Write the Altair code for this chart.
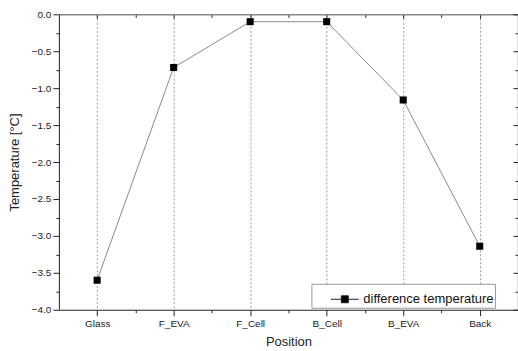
import altair as alt
import pandas as pd

categories = ["Glass", "F_EVA", "F_Cell", "B_Cell", "B_EVA", "Back"]
temps = [-3.60, -0.72, -0.10, -0.10, -1.16, -3.14]
series_name = "difference temperature"
y_ticks = [-4.0, -3.75, -3.5, -3.25, -3.0, -2.75, -2.5, -2.25, -2.0, -1.75, -1.5,
           -1.25, -1.0, -0.75, -0.5, -0.25, 0.0]
x_ticks = [0, 0.5, 1, 1.5, 2, 2.5, 3, 3.5, 4, 4.5, 5]

df = pd.DataFrame({
    "idx": list(range(len(categories))),
    "pos": categories,
    "temp": temps,
    "series": [series_name] * len(categories),
})

W, H = 460, 296
FONT = "Liberation Sans"
names_js = "[" + ",".join("'%s'" % c for c in categories) + "]"

xscale = alt.Scale(domain=[-0.5, len(categories) - 0.5], nice=False, zero=False)
yscale = alt.Scale(domain=[-4.0, 0.0], nice=False, zero=False)

x_minor = "abs(datum.value*2) % 2 > 0.5"
y_minor = "abs(round(datum.value*4)) % 2 == 1"

xaxis = alt.Axis(
    orient="bottom",
    values=x_ticks,
    labelExpr="(abs(datum.value*2) % 2 > 0.5) ? '' : " + names_js + "[round(datum.value)]",
    title="Position", titleFont=FONT, titleFontSize=13, titleFontWeight="normal",
    titleColor="#222", titlePadding=7,
    labelFont=FONT, labelFontSize=10, labelColor="#222", labelPadding=3,
    tickSize={"condition": {"test": x_minor, "value": 3}, "value": 6},
    tickColor="#222", domainColor="#222", domainWidth=1,
    grid=True, gridDash=[2, 2], gridColor="#9a9a9a",
    gridOpacity={"condition": {"test": x_minor, "value": 0}, "value": 1},
)
yaxis = alt.Axis(
    orient="left",
    values=y_ticks,
    labelExpr="(abs(round(datum.value*4)) % 2 == 1) ? '' : format(datum.value, '.1f')",
    title="Temperature [°C]", titleFont=FONT, titleFontSize=13, titleFontWeight="normal",
    titleColor="#222", titlePadding=10,
    labelFont=FONT, labelFontSize=10, labelColor="#222", labelPadding=2,
    tickSize={"condition": {"test": y_minor, "value": 3}, "value": 6},
    tickColor="#222", domainColor="#222", domainWidth=1, grid=False,
)
top_axis = alt.Axis(
    orient="bottom", offset=-H, values=x_ticks, labels=False, title=None,
    tickSize={"condition": {"test": x_minor, "value": 3}, "value": 4},
    tickColor="#222", domainColor="#888", domainWidth=1.5, grid=False,
)
right_axis = alt.Axis(
    orient="left", offset=-W, values=y_ticks, labels=False, title=None,
    tickSize={"condition": {"test": y_minor, "value": 3}, "value": 5},
    tickColor="#222", domainColor="#888", domainWidth=1.5, grid=False,
)

base = alt.Chart(df)

line = base.mark_line(color="#8a8a8a", strokeWidth=1).encode(
    x=alt.X("idx:Q", scale=xscale, axis=xaxis),
    y=alt.Y("temp:Q", scale=yscale, axis=yaxis),
)

pts = base.mark_square(size=50, opacity=1, filled=True).encode(
    x=alt.X("idx:Q", scale=xscale, axis=None),
    y=alt.Y("temp:Q", scale=yscale, axis=None),
    color=alt.Color(
        "series:N",
        scale=alt.Scale(range=["black"]),
        legend=alt.Legend(
            title=None, orient="none", legendX=253, legendY=270,
            strokeColor="#999", padding=1, fillColor="white",
            symbolType="M-1,0H-0.25M0.25,0H1M-0.25,-0.25H0.25V0.25H-0.25Z",
            symbolSize=784, symbolStrokeWidth=1, symbolStrokeColor="#222",
            symbolFillColor="black", symbolOffset=18,
            labelFont=FONT, labelFontSize=13, labelColor="#111", labelOffset=4,
        ),
    ),
)

mirror = base.mark_point(opacity=0).encode(
    x=alt.X("idx:Q", scale=xscale, axis=top_axis),
    y=alt.Y("temp:Q", scale=yscale, axis=right_axis),
)

chart = (
    alt.layer(line, pts, mirror)
    .resolve_axis(x="independent", y="independent")
    .properties(
        width=W, height=H,
        autosize=alt.AutoSizeParams(type="none"),
        padding={"left": 59, "top": 14, "right": 0, "bottom": 41},
        background="white",
    )
    .configure_view(stroke=None)
)

chart.save("out.html", embed_options={"renderer": "svg", "actions": False})
